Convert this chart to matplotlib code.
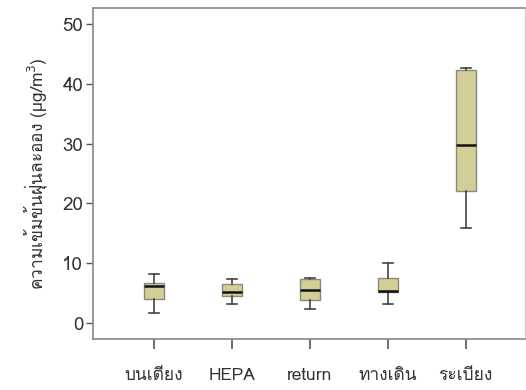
import matplotlib
matplotlib.use("Agg")
import matplotlib.pyplot as plt
from matplotlib import font_manager
from matplotlib.ft2font import FT2Font

# Pick an installed family that covers Thai script, preferring Tahoma-like faces
def thai_family():
    found = []
    for f in font_manager.fontManager.ttflist:
        try:
            cmap = FT2Font(f.fname).get_charmap()
        except Exception:
            continue
        if 0x0E01 in cmap and 0x0E40 in cmap:
            found.append(f.name)
    for pref in ["Waree", "Loma", "Garuda", "Umpush", "Sawasdee", "Noto Sans Thai",
                 "Noto Sans Thai UI"]:
        if pref in found:
            return pref
    return found[0] if found else None

fam = thai_family()
families = ([fam] if fam else []) + ["DejaVu Sans"]
plt.rcParams["font.family"] = families

categories = ["บนเตียง", "HEPA", "return", "ทางเดิน", "ระเบียง"]
whisker_low = [1.6, 3.1, 2.3, 3.1, 15.9]
q1 = [4.0, 4.5, 3.9, 5.2, 22.1]
median = [6.1, 5.2, 5.5, 5.3, 29.8]
q3 = [6.7, 6.5, 7.4, 7.5, 42.4]
whisker_high = [8.1, 7.4, 7.5, 10.0, 42.6]
yticks = [0, 10, 20, 30, 40, 50]
ylabel = "ความเข้มข้นฝุ่นละออง (µg/m$^3$)"

stats = []
for c, lo, a, m, b, hi in zip(categories, whisker_low, q1, median, q3, whisker_high):
    stats.append(dict(label=c, whislo=lo, q1=a, med=m, q3=b, whishi=hi, fliers=[]))

fig = plt.figure(figsize=(5.26, 3.9), dpi=100)
ax = fig.add_axes([0.1768, 0.1308, 0.8212, 0.8487])

ax.bxp(stats, positions=range(1, 6), widths=0.26, patch_artist=True,
       boxprops=dict(facecolor="#d3ce98", edgecolor="#8a8a7a", linewidth=1.0),
       medianprops=dict(color="#111111", linewidth=1.8),
       whiskerprops=dict(color="#444444", linewidth=1.2),
       capprops=dict(color="#444444", linewidth=1.2),
       capwidths=0.13)

ax.set_xlim(0.22, 5.76)
ax.set_ylim(-2.7, 52.7)
ax.set_yticks(yticks)
ax.set_yticklabels([str(v) for v in yticks], fontsize=13.5, color="#333333")
ax.set_xticks(range(1, 6))
ax.set_xticklabels(categories, fontsize=12.5, color="#333333")
ax.tick_params(axis="y", length=5, width=1, color="#555555", pad=2)
ax.tick_params(axis="x", length=7, width=1.2, color="#555555", pad=14)
ax.set_ylabel(ylabel, fontsize=12.5, color="#333333", labelpad=9)

for s in ("left", "bottom", "top"):
    ax.spines[s].set_color("#888888")
    ax.spines[s].set_linewidth(1.2)
ax.spines["right"].set_color("#cccccc")
ax.spines["right"].set_linewidth(0.8)

fig.savefig("out.png", dpi=100)
